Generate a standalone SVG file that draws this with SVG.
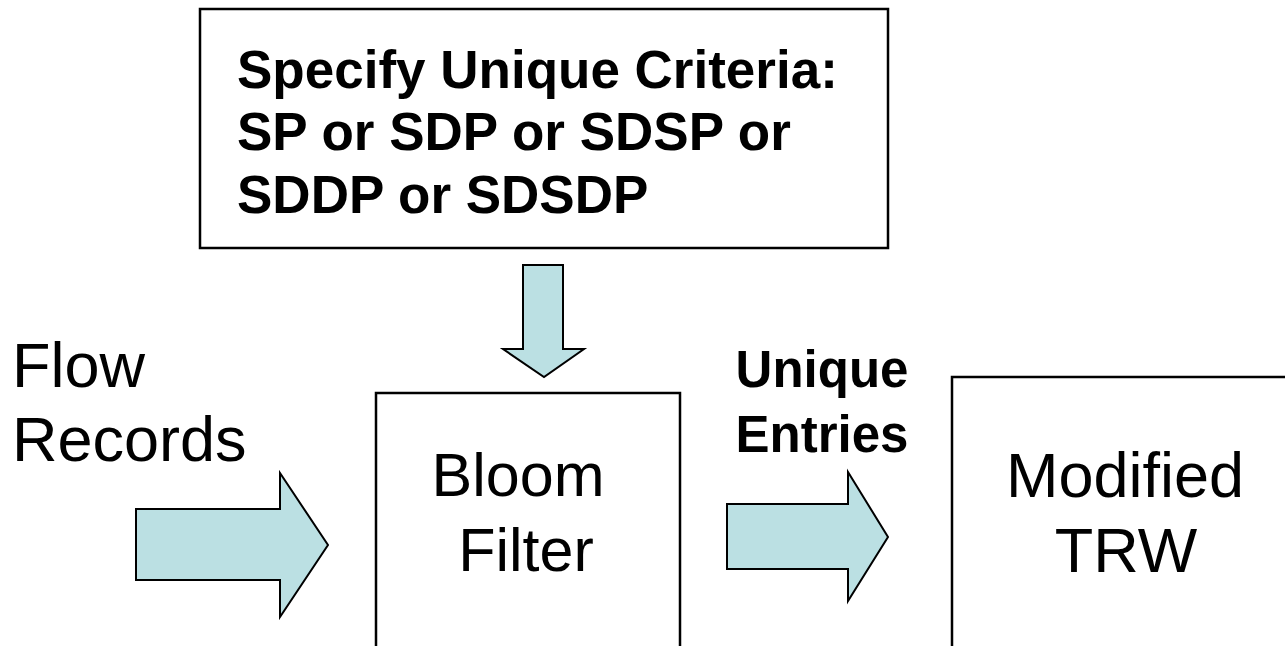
<svg xmlns="http://www.w3.org/2000/svg" width="1285" height="646" viewBox="0 0 1285 646">
<style>
.box{fill:#fff;stroke:#000;stroke-width:2.5}
.arr{fill:#bbe0e3;stroke:#000;stroke-width:2}
.b{font-family:"Liberation Sans",Arial,sans-serif;font-weight:bold;fill:#000}
.r{font-family:"Liberation Sans",Arial,sans-serif;fill:#000}
</style>
<rect width="1285" height="646" fill="#fff"/>
<g id="criteria">
<rect class="box" x="200" y="9" width="688" height="239"/>
<text class="b" font-size="53" x="237" y="88">Specify Unique Criteria:</text>
<text class="b" font-size="53" x="237" y="150">SP or SDP or SDSP or</text>
<text class="b" font-size="53" x="237" y="213">SDDP or SDSDP</text>
</g>
<g id="flow-records">
<text class="r" font-size="63" x="12" y="387">Flow</text>
<text class="r" font-size="63" x="12" y="461">Records</text>
</g>
<g id="bloom-filter">
<rect class="box" x="376" y="393" width="304" height="300"/>
<text class="r" font-size="61" x="518" y="496" text-anchor="middle">Bloom</text>
<text class="r" font-size="61" x="526" y="571" text-anchor="middle">Filter</text>
</g>
<g id="modified-trw">
<rect class="box" x="952" y="377" width="400" height="320"/>
<text class="r" font-size="63" x="1125" y="497" text-anchor="middle">Modified</text>
<text class="r" font-size="63" x="1126" y="572" text-anchor="middle">TRW</text>
</g>
<g id="connectors">
<polygon class="arr" points="523,265 563,265 563,349 584,349 544,377 503,349 523,349"/>
<polygon class="arr" points="136,509 280,509 280,473 328,545 280,617 280,580 136,580"/>
<polygon class="arr" points="727,504 848,504 848,472 888,537 848,601 848,569 727,569"/>
<text class="b" font-size="51" x="822" y="387" text-anchor="middle">Unique</text>
<text class="b" font-size="51" x="822" y="452" text-anchor="middle">Entries</text>
</g>
</svg>
